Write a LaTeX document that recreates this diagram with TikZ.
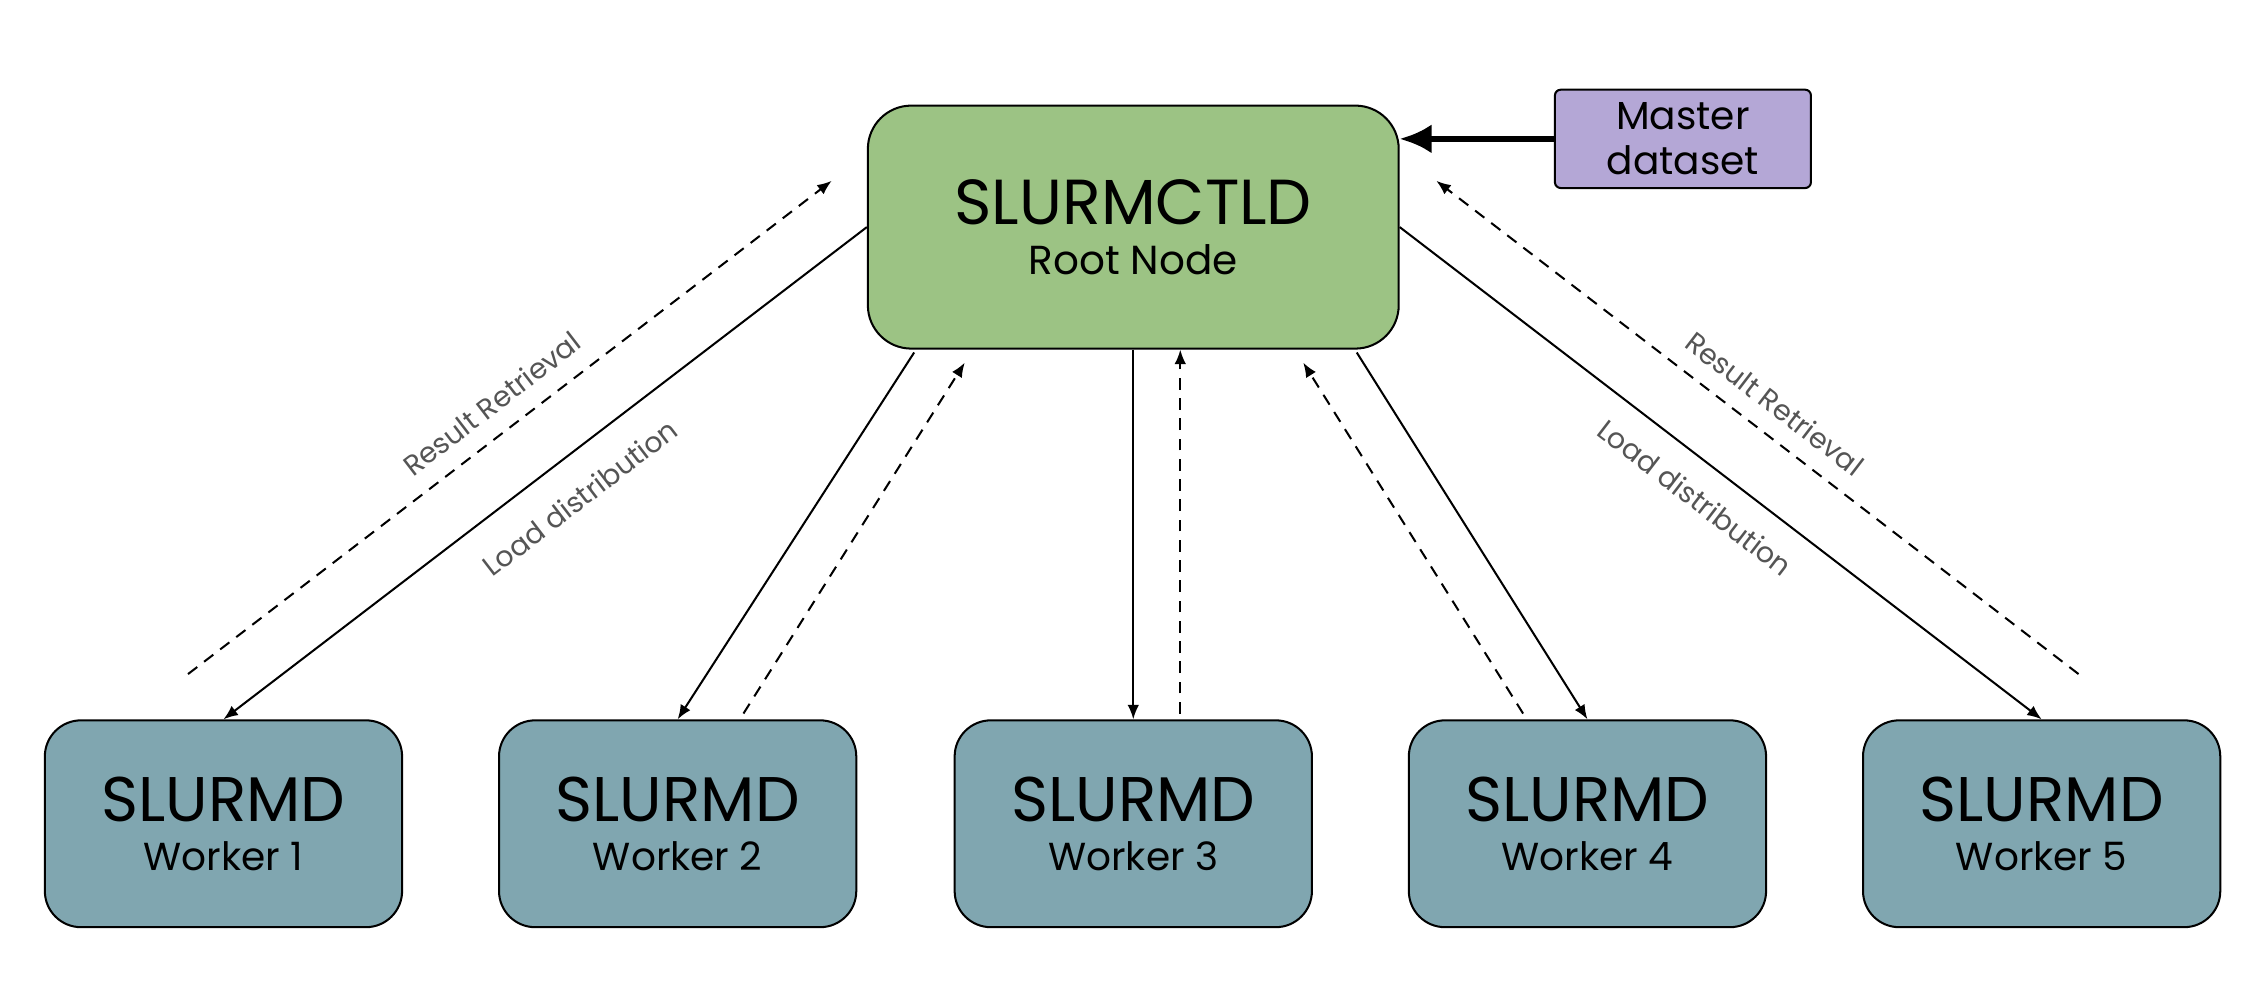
\documentclass[tikz,border=0pt]{standalone}
\usepackage{fontspec}
\setmainfont{Poppins}
\usetikzlibrary{arrows.meta,calc}
\definecolor{rootgreen}{HTML}{9CC384}
\definecolor{workerblue}{HTML}{80A6B0}
\definecolor{masterpurple}{HTML}{B4A7D6}
\definecolor{labelgray}{HTML}{555555}
\begin{document}
\begin{tikzpicture}[x=0.5pt,y=-0.5pt,
  rootbox/.style={draw=black,line width=0.7pt,fill=rootgreen,rounded corners=15pt,
    minimum width=183.5pt,minimum height=84pt,inner sep=0pt,align=center,
    font=\fontsize{14}{17.5}\selectfont},
  workerbox/.style={draw=black,line width=0.7pt,fill=workerblue,rounded corners=12.5pt,
    minimum width=123.5pt,minimum height=71.5pt,inner sep=0pt,align=center,
    font=\fontsize{13.5}{17}\selectfont},
  masterbox/.style={draw=black,line width=0.7pt,fill=masterpurple,rounded corners=2pt,
    minimum width=88.5pt,minimum height=34pt,inner sep=0pt,align=center,
    font=\fontsize{13.5}{15.5}\selectfont},
  conn/.style={line width=0.7pt,-{Latex[length=5pt,width=4pt]}},
  dconn/.style={conn,dash pattern=on 4pt off 3pt},
  lbl/.style={font=\fontsize{9.8}{11}\selectfont,text=labelgray,inner sep=0pt}
]
\useasboundingbox (0,0) rectangle (1568,681.7);
\fill[white] (0,0) rectangle (1568,681.7);

\node[rootbox] (root) at (783.5,157) {{\fontsize{22}{17.5}\selectfont SLURMCTLD}\\Root Node};
\node[masterbox] (master) at (1163.5,96) {Master\\dataset};

\foreach \i/\x in {1/154.5,2/468.5,3/783.5,4/1097.5,5/1411.5}{
  \node[workerbox] (w\i) at (\x,569.5) {{\fontsize{21.8}{17}\selectfont SLURMD}\\Worker \i};
}

% master -> root
\draw[line width=2pt,-{Latex[length=11pt,width=10pt]}] (master.west) -- (master.west -| root.east);

% left outer
\coordinate (rl1) at (130,466);
\coordinate (rl2) at (575,125);
\draw[conn] (root.west) -- (w1.north);
\draw[dconn] (rl1) -- (rl2);

% worker 2
\draw[conn] ($(root.south)+(-151.5,2)$) -- (w2.north);
\draw[dconn] ($(w2.north)+(45.5,-4)$) -- ($(root.south)+(-116.5,9)$);

% worker 3
\draw[conn] (root.south) -- (w3.north);
\draw[dconn] ($(w3.north)+(32.5,-4)$) -- ($(root.south)+(32.5,0)$);

% worker 4
\draw[dconn] ($(w4.north)+(-44.5,-4)$) -- ($(root.south)+(117.5,9)$);
\draw[conn] ($(root.south)+(154.5,2)$) -- (w4.north);

% right outer
\coordinate (rr1) at (1437,466);
\coordinate (rr2) at (993,125);
\draw[conn] (root.east) -- (w5.north);
\draw[dconn] (rr1) -- (rr2);

% labels
\node[lbl,rotate=37.5] (lrr) at (340,279) {Result Retrieval};
\node[lbl,rotate=37.5] (lld) at (401,344) {Load distribution};
\node[lbl,rotate=-37.5] (rrr) at (1227,279) {Result Retrieval};
\node[lbl,rotate=-37.5] (rld) at (1172,344) {Load distribution};
\end{tikzpicture}
\end{document}
